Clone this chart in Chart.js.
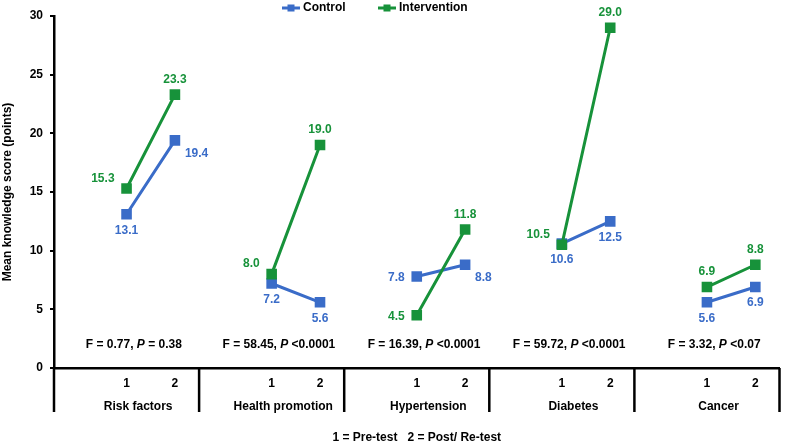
<!DOCTYPE html>
<html>
<head>
<meta charset="utf-8">
<script src="https://cdn.jsdelivr.net/npm/chart.js@4.4.0/dist/chart.umd.min.js"></script>
<style>
  html, body { margin: 0; padding: 0; background: #fff; }
</style>
</head>
<body>
<canvas id="knowledgeChart" width="787" height="445"></canvas>
<script>
// Knowledge domains and test occasions
const categories = ['Risk factors', 'Health promotion', 'Hypertension', 'Diabetes', 'Cancer'];
const testLabels = ['1', '2'];

// Mean knowledge scores, pre-test then post-test for each domain
const controlScores = [13.1, 19.4, 7.2, 5.6, 7.8, 8.8, 10.6, 12.5, 5.6, 6.9];
const interventionScores = [15.3, 23.3, 8.0, 19.0, 4.5, 11.8, 10.5, 29.0, 6.9, 8.8];

// F test per domain
const fValues = ['0.77', '58.45', '16.39', '59.72', '3.32'];
const pValues = ['= 0.38', '<0.0001', '<0.0001', '<0.0001', '<0.07'];

const yTicks = [0, 5, 10, 15, 20, 25, 30];

const blue = '#3a6cc8';
const green = '#17923a';
const font = "'Liberation Sans', Arial, sans-serif";

// where each value label sits next to its point
const controlLabelPos = ['below', 'right', 'below', 'below', 'left', 'right', 'below', 'below', 'below', 'below'];
const interventionLabelPos = ['upleft', 'above', 'upleft', 'above', 'left', 'above', 'upleft', 'above', 'above', 'above'];

// x value of test j inside domain i
function testX(i, j) {
    return i + 0.5 + j / 3;
}

// pairs of points with a gap after each pair, so lines stay inside a domain
function buildPoints(scores) {
    const pts = [];
    categories.forEach((c, i) => {
        pts.push({ x: testX(i, 0), y: scores[2 * i] });
        pts.push({ x: testX(i, 1), y: scores[2 * i + 1] });
        pts.push({ x: i + 1, y: null });
    });
    return pts;
}

// small line + square icon for the legend
function legendIcon(color) {
    const c = document.createElement('canvas');
    c.width = 18;
    c.height = 10;
    const g = c.getContext('2d');
    g.strokeStyle = color;
    g.lineWidth = 3;
    g.beginPath();
    g.moveTo(0, 5);
    g.lineTo(18, 5);
    g.stroke();
    g.fillStyle = color;
    g.fillRect(5.5, 1.5, 7, 7);
    return c;
}

const labelOffsets = {
    above: { dx: 0, dy: -15, align: 'center' },
    below: { dx: 0, dy: 16, align: 'center' },
    right: { dx: 10, dy: 13, align: 'left' },
    left: { dx: -12, dy: 1, align: 'right' },
    upleft: { dx: -12, dy: -10, align: 'right' }
};

// value labels beside each point
const valueLabels = {
    id: 'valueLabels',
    afterDatasetsDraw(chart) {
        const ctx = chart.ctx;
        chart.data.datasets.forEach((ds, d) => {
            const meta = chart.getDatasetMeta(d);
            ctx.save();
            ctx.font = 'bold 12px ' + font;
            ctx.fillStyle = ds.borderColor;
            ctx.textBaseline = 'middle';
            meta.data.forEach((pt, k) => {
                if (k % 3 === 2) return;
                const idx = Math.floor(k / 3) * 2 + (k % 3);
                const off = labelOffsets[ds.labelPos[idx]];
                ctx.textAlign = off.align;
                ctx.fillText(ds.data[k].y.toFixed(1), pt.x + off.dx, pt.y + off.dy);
            });
            ctx.restore();
        });
    }
};

// domain separators below the axis and the F / P results
const groupDecor = {
    id: 'groupDecor',
    afterDraw(chart) {
        const { ctx, chartArea, scales: { x, y } } = chart;
        ctx.save();
        ctx.strokeStyle = '#000';
        ctx.lineWidth = 2.5;
        for (let i = 0; i <= categories.length; i++) {
            const px = x.getPixelForValue(i);
            ctx.beginPath();
            ctx.moveTo(px, chartArea.bottom);
            ctx.lineTo(px, chartArea.bottom + 44);
            ctx.stroke();
        }

        ctx.fillStyle = '#000';
        ctx.textBaseline = 'middle';
        ctx.textAlign = 'left';
        const plain = 'bold 12px ' + font;
        const italic = 'italic bold 12px ' + font;
        categories.forEach((c, i) => {
            const parts = [
                [plain, 'F = ' + fValues[i] + ', '],
                [italic, 'P'],
                [plain, ' ' + pValues[i]]
            ];
            let total = 0;
            parts.forEach(p => { ctx.font = p[0]; total += ctx.measureText(p[1]).width; });
            let cx = x.getPixelForValue(i + 0.55) - total / 2;
            const cy = y.getPixelForValue(2);
            parts.forEach(p => {
                ctx.font = p[0];
                ctx.fillText(p[1], cx, cy);
                cx += ctx.measureText(p[1]).width;
            });
        });
        ctx.restore();
    }
};

const tickFont = { family: font, size: 12, weight: 'bold' };
const legendGap = '          ';

const ctx = document.getElementById('knowledgeChart').getContext('2d');
const knowledgeChart = new Chart(ctx, {
    type: 'line',
    data: {
        datasets: [{
            label: 'Control',
            data: buildPoints(controlScores),
            labelPos: controlLabelPos,
            borderColor: blue,
            backgroundColor: blue,
            borderWidth: 3,
            pointStyle: 'rect',
            pointRadius: 7.5,
            pointBorderWidth: 0,
            order: 2,
            tension: 0
        }, {
            label: 'Intervention',
            data: buildPoints(interventionScores),
            labelPos: interventionLabelPos,
            borderColor: green,
            backgroundColor: green,
            borderWidth: 3,
            pointStyle: 'rect',
            pointRadius: 7.5,
            pointBorderWidth: 0,
            order: 1,
            tension: 0
        }]
    },
    options: {
        responsive: false,
        animation: false,
        layout: { padding: { left: 0, right: 1, top: 0, bottom: 0 } },
        plugins: {
            tooltip: { enabled: false },
            legend: {
                position: 'top',
                maxHeight: 16,
                labels: {
                    usePointStyle: true,
                    pointStyleWidth: 12,
                    boxHeight: 10,
                    padding: 2,
                    color: '#000',
                    font: tickFont,
                    generateLabels: chart => chart.data.datasets.map((ds, i) => ({
                        text: ds.label + legendGap,
                        fillStyle: ds.borderColor,
                        strokeStyle: ds.borderColor,
                        lineWidth: 0,
                        pointStyle: legendIcon(ds.borderColor),
                        fontColor: '#000',
                        hidden: false,
                        datasetIndex: i
                    }))
                }
            }
        },
        scales: {
            x: {
                type: 'linear',
                min: 0,
                max: categories.length,
                weight: 0,
                afterBuildTicks: s => {
                    const t = [];
                    categories.forEach((c, i) => testLabels.forEach((l, j) => t.push({ value: testX(i, j) })));
                    s.ticks = t;
                },
                afterFit: s => { s.height = 22; },
                ticks: {
                    autoSkip: false,
                    maxRotation: 0,
                    padding: 8,
                    color: '#000',
                    font: tickFont,
                    callback: (v, i) => testLabels[i % 2]
                },
                grid: { display: true, drawOnChartArea: false, drawTicks: false },
                border: { display: true, color: '#000', width: 2.5 }
            },
            x2: {
                type: 'linear',
                position: 'bottom',
                min: 0,
                max: categories.length,
                weight: 1,
                afterBuildTicks: s => {
                    s.ticks = categories.map((c, i) => ({ value: i + 0.58 }));
                },
                afterFit: s => { s.height = 55; },
                ticks: {
                    autoSkip: false,
                    maxRotation: 0,
                    padding: 1,
                    color: '#000',
                    font: tickFont,
                    callback: (v, i) => categories[i]
                },
                grid: { display: false },
                border: { display: false },
                title: {
                    display: true,
                    text: '1 = Pre-test   2 = Post/ Re-test',
                    color: '#000',
                    font: tickFont,
                    padding: 0
                }
            },
            y: {
                min: 0,
                max: 30,
                afterBuildTicks: s => { s.ticks = yTicks.map(v => ({ value: v })); },
                afterFit: s => { s.width = 54; },
                ticks: { color: '#000', font: tickFont, padding: 7 },
                grid: { display: true, drawOnChartArea: false, drawTicks: true, tickLength: 4, color: '#000', lineWidth: 2 },
                border: { display: true, color: '#000', width: 2.5 },
                title: {
                    display: true,
                    text: 'Mean knowledge score (points)',
                    color: '#000',
                    font: tickFont,
                    padding: 0
                }
            }
        }
    },
    plugins: [valueLabels, groupDecor]
});
</script>
</body>
</html>
